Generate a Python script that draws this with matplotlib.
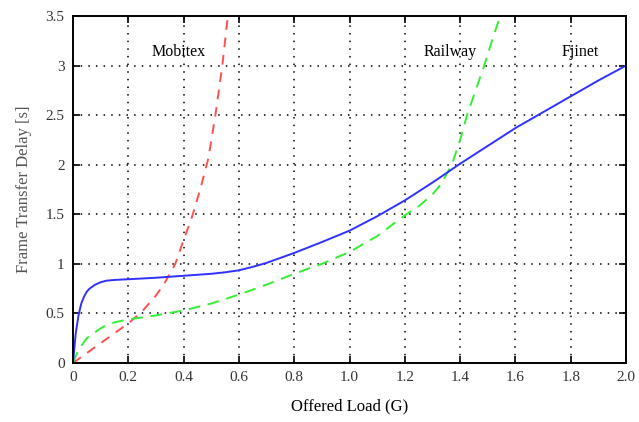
import matplotlib
matplotlib.use("Agg")
import matplotlib.pyplot as plt

plt.rcParams['font.family'] = ['Liberation Serif', 'DejaVu Serif']

# offered load vs frame transfer delay
fjinet_x = [0, 0.005, 0.01, 0.02, 0.03, 0.04, 0.05, 0.06, 0.08, 0.1, 0.12, 0.15, 0.2,
            0.3, 0.4, 0.5, 0.55, 0.6, 0.65, 0.7, 0.75, 0.8, 0.9, 1.0, 1.1, 1.2, 1.3,
            1.4, 1.5, 1.6, 1.7, 1.8, 1.9, 2.0]
fjinet_y = [0, 0.15, 0.3, 0.48, 0.6, 0.67, 0.72, 0.75, 0.79, 0.815, 0.83, 0.838, 0.845,
            0.86, 0.88, 0.9, 0.915, 0.935, 0.97, 1.01, 1.06, 1.11, 1.22, 1.335, 1.48,
            1.64, 1.82, 2.01, 2.19, 2.37, 2.53, 2.69, 2.85, 3.0]

railway_x = [0, 0.01, 0.02, 0.05, 0.08, 0.1, 0.12, 0.15, 0.2, 0.3, 0.4, 0.5, 0.6, 0.7,
             0.8, 0.9, 1.0, 1.1, 1.2, 1.25, 1.3, 1.33, 1.37, 1.4, 1.425, 1.45, 1.487,
             1.515, 1.545]
railway_y = [0, 0.07, 0.13, 0.25, 0.31, 0.35, 0.38, 0.41, 0.44, 0.48, 0.53, 0.6, 0.69,
             0.79, 0.9, 1.0, 1.12, 1.28, 1.49, 1.58, 1.70, 1.80, 2.0, 2.25, 2.5, 2.7,
             3.0, 3.25, 3.5]

mobitex_x = [0, 0.05, 0.1, 0.15, 0.2, 0.25, 0.3, 0.33, 0.37, 0.4, 0.43, 0.46, 0.49,
             0.515, 0.54, 0.56]
mobitex_y = [0, 0.1, 0.2, 0.3, 0.4, 0.52, 0.68, 0.8, 1.0, 1.24, 1.47, 1.75, 2.07,
             2.5, 3.0, 3.5]

labels = ["Mobitex", "Railway", "Fjinet"]
label_x = [0.383, 1.364, 1.836]
label_y = 3.14

xticks = [0, 0.2, 0.4, 0.6, 0.8, 1.0, 1.2, 1.4, 1.6, 1.8, 2.0]
xtick_labels = ["0", "0.2", "0.4", "0.6", "0.8", "1.0", "1.2", "1.4", "1.6", "1.8", "2.0"]
yticks = [0, 0.5, 1, 1.5, 2, 2.5, 3, 3.5]
ytick_labels = ["0", "0.5", "1", "1.5", "2", "2.5", "3", "3.5"]

fig = plt.figure(figsize=(6.39, 4.22), dpi=100)
ax = fig.add_axes([0.1142, 0.1398, 0.8655, 0.8222])

ax.plot(mobitex_x, mobitex_y, color='#ff5050', lw=1.4, dashes=(5, 4))
ax.plot(railway_x, railway_y, color='#33ee33', lw=1.4, dashes=(6, 4))
ax.plot(fjinet_x, fjinet_y, color='#3030ff', lw=1.4)

for t, lx in zip(labels, label_x):
    ax.text(lx, label_y, t, ha='center', va='center', fontsize=11.5)

ax.set_xlim(0, 2.0)
ax.set_ylim(0, 3.5)
ax.set_xticks(xticks)
ax.set_xticklabels(xtick_labels)
ax.set_yticks(yticks)
ax.set_yticklabels(ytick_labels)
ax.tick_params(direction='in', top=True, right=True, length=5, width=1.2,
               labelsize=11, labelcolor='#333333', pad=6)
ax.grid(True, color='black', linestyle=(0, (1, 4)), linewidth=1.1)

for s in ax.spines.values():
    s.set_linewidth(1.4)

ax.set_xlabel("Offered Load (G)", fontsize=12, labelpad=10)
ax.set_ylabel("Frame Transfer Delay [s]", fontsize=12, color='#555555', labelpad=10)

fig.savefig("out.png", dpi=100)
